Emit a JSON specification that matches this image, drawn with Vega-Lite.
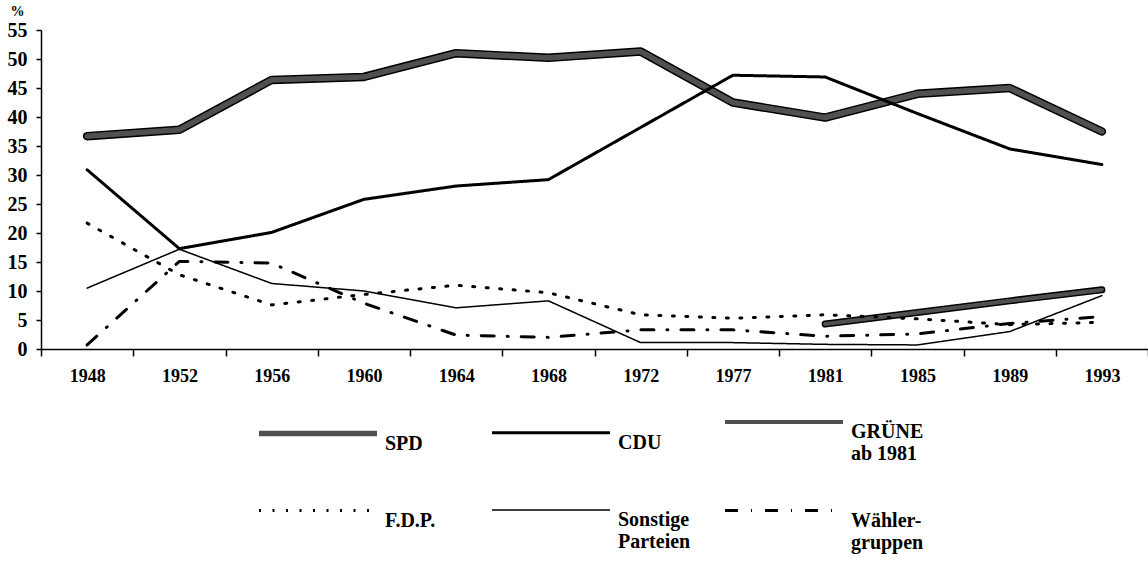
{
  "$schema": "https://vega.github.io/schema/vega-lite/v6.json",
  "width": 1107,
  "height": 319,
  "autosize": {"type": "none"},
  "padding": {"left": 41, "top": 30, "right": 0, "bottom": 213},
  "background": "white",
  "config": {"view": {"stroke": null}, "font": "Liberation Serif"},
  "data": {
    "values": [
      {"Jahr": "1948", "Partei": "SPD", "Anteil": 36.7},
      {"Jahr": "1952", "Partei": "SPD", "Anteil": 37.8},
      {"Jahr": "1956", "Partei": "SPD", "Anteil": 46.4},
      {"Jahr": "1960", "Partei": "SPD", "Anteil": 46.9},
      {"Jahr": "1964", "Partei": "SPD", "Anteil": 51.0},
      {"Jahr": "1968", "Partei": "SPD", "Anteil": 50.2},
      {"Jahr": "1972", "Partei": "SPD", "Anteil": 51.3},
      {"Jahr": "1977", "Partei": "SPD", "Anteil": 42.5},
      {"Jahr": "1981", "Partei": "SPD", "Anteil": 39.9},
      {"Jahr": "1985", "Partei": "SPD", "Anteil": 44.0},
      {"Jahr": "1989", "Partei": "SPD", "Anteil": 45.0},
      {"Jahr": "1993", "Partei": "SPD", "Anteil": 37.5},
      {"Jahr": "1948", "Partei": "CDU", "Anteil": 30.9},
      {"Jahr": "1952", "Partei": "CDU", "Anteil": 17.3},
      {"Jahr": "1956", "Partei": "CDU", "Anteil": 20.1},
      {"Jahr": "1960", "Partei": "CDU", "Anteil": 25.8},
      {"Jahr": "1964", "Partei": "CDU", "Anteil": 28.1},
      {"Jahr": "1968", "Partei": "CDU", "Anteil": 29.2},
      {"Jahr": "1972", "Partei": "CDU", "Anteil": 38.2},
      {"Jahr": "1977", "Partei": "CDU", "Anteil": 47.2},
      {"Jahr": "1981", "Partei": "CDU", "Anteil": 46.9},
      {"Jahr": "1985", "Partei": "CDU", "Anteil": 40.6},
      {"Jahr": "1989", "Partei": "CDU", "Anteil": 34.5},
      {"Jahr": "1993", "Partei": "CDU", "Anteil": 31.8},
      {"Jahr": "1981", "Partei": "GRÜNE", "Anteil": 4.3},
      {"Jahr": "1985", "Partei": "GRÜNE", "Anteil": 6.3},
      {"Jahr": "1989", "Partei": "GRÜNE", "Anteil": 8.3},
      {"Jahr": "1993", "Partei": "GRÜNE", "Anteil": 10.2},
      {"Jahr": "1948", "Partei": "F.D.P.", "Anteil": 21.7},
      {"Jahr": "1952", "Partei": "F.D.P.", "Anteil": 12.8},
      {"Jahr": "1956", "Partei": "F.D.P.", "Anteil": 7.6},
      {"Jahr": "1960", "Partei": "F.D.P.", "Anteil": 9.4},
      {"Jahr": "1964", "Partei": "F.D.P.", "Anteil": 11.0},
      {"Jahr": "1968", "Partei": "F.D.P.", "Anteil": 9.7},
      {"Jahr": "1972", "Partei": "F.D.P.", "Anteil": 5.9},
      {"Jahr": "1977", "Partei": "F.D.P.", "Anteil": 5.3},
      {"Jahr": "1981", "Partei": "F.D.P.", "Anteil": 5.9},
      {"Jahr": "1985", "Partei": "F.D.P.", "Anteil": 5.2},
      {"Jahr": "1989", "Partei": "F.D.P.", "Anteil": 4.2},
      {"Jahr": "1993", "Partei": "F.D.P.", "Anteil": 4.6},
      {"Jahr": "1948", "Partei": "Sonstige Parteien", "Anteil": 10.5},
      {"Jahr": "1952", "Partei": "Sonstige Parteien", "Anteil": 17.2},
      {"Jahr": "1956", "Partei": "Sonstige Parteien", "Anteil": 11.3},
      {"Jahr": "1960", "Partei": "Sonstige Parteien", "Anteil": 10.0},
      {"Jahr": "1964", "Partei": "Sonstige Parteien", "Anteil": 7.1},
      {"Jahr": "1968", "Partei": "Sonstige Parteien", "Anteil": 8.3},
      {"Jahr": "1972", "Partei": "Sonstige Parteien", "Anteil": 1.1},
      {"Jahr": "1977", "Partei": "Sonstige Parteien", "Anteil": 1.1},
      {"Jahr": "1981", "Partei": "Sonstige Parteien", "Anteil": 0.8},
      {"Jahr": "1985", "Partei": "Sonstige Parteien", "Anteil": 0.7},
      {"Jahr": "1989", "Partei": "Sonstige Parteien", "Anteil": 3.0},
      {"Jahr": "1993", "Partei": "Sonstige Parteien", "Anteil": 9.2},
      {"Jahr": "1948", "Partei": "Wählergruppen", "Anteil": 0.7},
      {"Jahr": "1952", "Partei": "Wählergruppen", "Anteil": 15.1},
      {"Jahr": "1956", "Partei": "Wählergruppen", "Anteil": 14.8},
      {"Jahr": "1960", "Partei": "Wählergruppen", "Anteil": 7.9},
      {"Jahr": "1964", "Partei": "Wählergruppen", "Anteil": 2.4},
      {"Jahr": "1968", "Partei": "Wählergruppen", "Anteil": 2.0},
      {"Jahr": "1972", "Partei": "Wählergruppen", "Anteil": 3.3},
      {"Jahr": "1977", "Partei": "Wählergruppen", "Anteil": 3.3},
      {"Jahr": "1981", "Partei": "Wählergruppen", "Anteil": 2.2},
      {"Jahr": "1985", "Partei": "Wählergruppen", "Anteil": 2.6},
      {"Jahr": "1989", "Partei": "Wählergruppen", "Anteil": 4.4},
      {"Jahr": "1993", "Partei": "Wählergruppen", "Anteil": 5.6}
    ]
  },
  "encoding": {
    "x": {
      "field": "Jahr",
      "type": "ordinal",
      "bandPosition": 0.5,
      "scale": {"type": "band", "paddingInner": 0, "paddingOuter": 0},
      "axis": {
        "title": null,
        "tickBand": "extent",
        "labelAngle": 0,
        "grid": false,
        "domainColor": "black",
        "domainWidth": 1.5,
        "tickColor": "black",
        "tickWidth": 1.5,
        "tickSize": 7,
        "labelFont": "Liberation Serif",
        "labelFontSize": 18,
        "labelFontWeight": "bold",
        "labelColor": "black",
        "labelPadding": 11
      }
    },
    "y": {
      "field": "Anteil",
      "type": "quantitative",
      "scale": {"domain": [0, 55], "nice": false},
      "axis": {
        "title": "%",
        "titleAngle": 0,
        "titleX": -24,
        "titleY": -19,
        "titleAlign": "center",
        "titleBaseline": "middle",
        "titleFont": "Liberation Serif",
        "titleFontSize": 14,
        "titleFontWeight": "bold",
        "titleColor": "black",
        "values": [0, 5, 10, 15, 20, 25, 30, 35, 40, 45, 50, 55],
        "grid": false,
        "domainColor": "black",
        "domainWidth": 1.5,
        "tickColor": "black",
        "tickWidth": 1.5,
        "tickSize": 5,
        "labelPadding": 9,
        "labelFont": "Liberation Serif",
        "labelFontSize": 20,
        "labelFontWeight": "bold",
        "labelColor": "black"
      }
    }
  },
  "layer": [
    {
      "transform": [{"filter": {"field": "Partei", "oneOf": ["SPD", "GRÜNE"]}}],
      "mark": {"type": "line", "color": "black", "strokeJoin": "round", "strokeCap": "round"},
      "encoding": {
        "detail": {"field": "Partei", "type": "nominal"},
        "strokeWidth": {"condition": {"test": "datum.Partei === 'SPD'", "value": 8.5}, "value": 7}
      }
    },
    {
      "mark": {"type": "line", "strokeJoin": "round", "strokeCap": "round"},
      "encoding": {
        "color": {
          "field": "Partei",
          "type": "nominal",
          "scale": {"domain": ["SPD", "CDU", "GRÜNE", "F.D.P.", "Sonstige Parteien", "Wählergruppen"], "range": ["#505050", "#000000", "#505050", "#000000", "#000000", "#000000"]},
          "legend": {
            "title": null, "orient": "none", "legendX": 214, "legendY": 380, "direction": "horizontal",
            "columns": 3, "gridAlign": "all", "columnPadding": 26, "rowPadding": 35,
            "symbolSize": 400, "symbolOffset": 50, "symbolType": "M-5.9,0L5.9,0",
            "labelOffset": 54, "labelFont": "Liberation Serif", "labelFontSize": 20, "labelFontWeight": "bold",
            "labelColor": "black", "labelBaseline": "top", "labelLimit": 0,
            "labelExpr": "datum.label === 'Sonstige Parteien' ? ['Sonstige', 'Parteien'] : datum.label === 'Wählergruppen' ? ['Wähler-', 'gruppen'] : datum.label === 'GRÜNE' ? ['GRÜNE', 'ab 1981'] : datum.label"
          }
        },
        "strokeWidth": {
          "field": "Partei",
          "type": "nominal",
          "scale": {"type": "ordinal", "domain": ["SPD", "CDU", "GRÜNE", "F.D.P.", "Sonstige Parteien", "Wählergruppen"], "range": [5.5, 3, 4, 3, 1.5, 3]},
          "legend": {
            "title": null, "orient": "none", "legendX": 214, "legendY": 380, "direction": "horizontal",
            "columns": 3, "gridAlign": "all", "columnPadding": 26, "rowPadding": 35,
            "symbolSize": 400, "symbolOffset": 50, "symbolType": "M-5.9,0L5.9,0",
            "labelOffset": 54, "labelFont": "Liberation Serif", "labelFontSize": 20, "labelFontWeight": "bold",
            "labelColor": "black", "labelBaseline": "top", "labelLimit": 0,
            "labelExpr": "datum.label === 'Sonstige Parteien' ? ['Sonstige', 'Parteien'] : datum.label === 'Wählergruppen' ? ['Wähler-', 'gruppen'] : datum.label === 'GRÜNE' ? ['GRÜNE', 'ab 1981'] : datum.label"
          }
        },
        "strokeDash": {
          "field": "Partei",
          "type": "nominal",
          "scale": {"domain": ["SPD", "CDU", "GRÜNE", "F.D.P.", "Sonstige Parteien", "Wählergruppen"], "range": [[1, 0], [1, 0], [1, 0], [2, 11.5], [1, 0], [13, 13, 1, 13]]},
          "legend": {
            "title": null, "orient": "none", "legendX": 214, "legendY": 380, "direction": "horizontal",
            "columns": 3, "gridAlign": "all", "columnPadding": 26, "rowPadding": 35,
            "symbolSize": 400, "symbolOffset": 50, "symbolType": "M-5.9,0L5.9,0",
            "labelOffset": 54, "labelFont": "Liberation Serif", "labelFontSize": 20, "labelFontWeight": "bold",
            "labelColor": "black", "labelBaseline": "top", "labelLimit": 0,
            "labelExpr": "datum.label === 'Sonstige Parteien' ? ['Sonstige', 'Parteien'] : datum.label === 'Wählergruppen' ? ['Wähler-', 'gruppen'] : datum.label === 'GRÜNE' ? ['GRÜNE', 'ab 1981'] : datum.label"
          }
        }
      }
    }
  ]
}
